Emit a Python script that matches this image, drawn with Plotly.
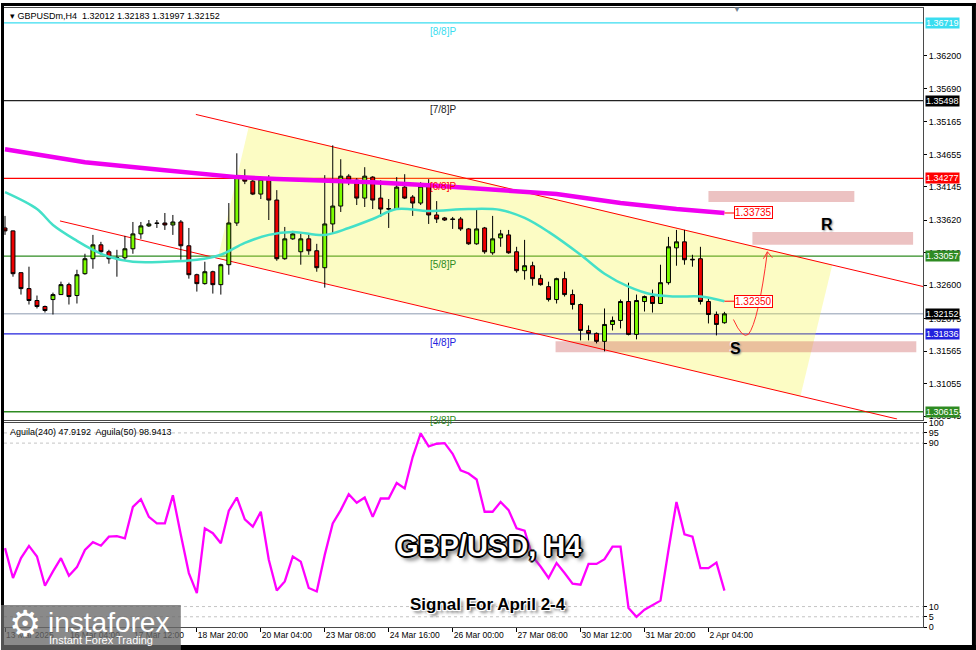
import plotly.graph_objects as go
from plotly.subplots import make_subplots

# ---------------- data ----------------
bar_index = list(range(91))
opens = [1.33500, 1.33454, 1.32798, 1.32548, 1.32361, 1.32267, 1.32376, 1.32454, 1.32610, 1.32439,
         1.32782, 1.33017, 1.33235, 1.33126, 1.33017, 1.33032, 1.33173, 1.33407, 1.33532, 1.33578,
         1.33578, 1.33547, 1.33594, 1.33220, 1.32766, 1.32626, 1.32813, 1.32610, 1.32923, 1.33578,
         1.34298, 1.34235, 1.34032, 1.34266, 1.33938, 1.33017, 1.33329, 1.33126, 1.33329, 1.33142,
         1.32876, 1.33563, 1.33844, 1.34313, 1.34251, 1.33969, 1.34298, 1.33969, 1.33805, 1.33797,
         1.34141, 1.33985, 1.33891, 1.34157, 1.33704, 1.33657, 1.33641, 1.33641, 1.33485, 1.33251,
         1.33500, 1.33110, 1.33344, 1.33391, 1.33126, 1.32829, 1.32907, 1.32704, 1.32579, 1.32376,
         1.32704, 1.32454, 1.32298, 1.31891, 1.31845, 1.31720, 1.31985, 1.32048, 1.32345, 1.31829,
         1.32345, 1.32423, 1.32314, 1.32641, 1.33188, 1.33282, 1.33009, 1.33017, 1.32345, 1.32141,
         1.32012]
highs = [1.33689, 1.33460, 1.32800, 1.32892, 1.32439, 1.32282, 1.32485, 1.32657, 1.32641, 1.32844,
         1.33095, 1.33391, 1.33282, 1.33157, 1.33157, 1.33376, 1.33594, 1.33594, 1.33625, 1.33625,
         1.33735, 1.33704, 1.33625, 1.33500, 1.32782, 1.32970, 1.32829, 1.32939, 1.33891, 1.34672,
         1.34422, 1.34266, 1.34282, 1.34329, 1.34094, 1.33516, 1.33454, 1.33407, 1.33407, 1.33251,
         1.34329, 1.34797, 1.34579, 1.34344, 1.34282, 1.34454, 1.34313, 1.34250, 1.33954, 1.34298,
         1.34344, 1.34016, 1.34219, 1.34266, 1.33922, 1.33673, 1.33673, 1.33673, 1.33500, 1.33797,
         1.33516, 1.33689, 1.33469, 1.33469, 1.33204, 1.33313, 1.32970, 1.32766, 1.32657, 1.32719,
         1.32813, 1.32532, 1.32314, 1.31970, 1.31860, 1.32236, 1.32110, 1.32376, 1.32641, 1.32454,
         1.32439, 1.32532, 1.32923, 1.33360, 1.33469, 1.33469, 1.33079, 1.33204, 1.32392, 1.32188,
         1.32183]
lows = [1.33391, 1.32735, 1.32454, 1.32298, 1.32236, 1.32172, 1.32141, 1.32450, 1.32298, 1.32314,
        1.32766, 1.32860, 1.33079, 1.32939, 1.32735, 1.32985, 1.33095, 1.33329, 1.33516, 1.33500,
        1.33469, 1.33391, 1.33001, 1.32704, 1.32501, 1.32610, 1.32470, 1.32454, 1.32766, 1.33532,
        1.34188, 1.34016, 1.33954, 1.33625, 1.32985, 1.33001, 1.33313, 1.32923, 1.33079, 1.32813,
        1.32563, 1.33407, 1.33751, 1.34172, 1.33860, 1.33829, 1.33797, 1.33673, 1.33500, 1.33782,
        1.33954, 1.33689, 1.33860, 1.33563, 1.33578, 1.33610, 1.33485, 1.33454, 1.33235, 1.33235,
        1.33095, 1.33079, 1.33204, 1.33095, 1.32798, 1.32688, 1.32594, 1.32594, 1.32345, 1.32314,
        1.32423, 1.32220, 1.31735, 1.31735, 1.31688, 1.31563, 1.31891, 1.31923, 1.31813, 1.31751,
        1.32188, 1.32172, 1.32310, 1.32610, 1.32907, 1.32923, 1.32892, 1.32298, 1.32001, 1.31813,
        1.31997]
closes = [1.33454, 1.32782, 1.32548, 1.32361, 1.32267, 1.32204, 1.32454, 1.32610, 1.32423, 1.32766,
          1.33017, 1.33235, 1.33126, 1.33017, 1.33032, 1.33173, 1.33407, 1.33532, 1.33563, 1.33572,
          1.33547, 1.33594, 1.33220, 1.32766, 1.32626, 1.32813, 1.32610, 1.32923, 1.33578, 1.34298,
          1.34235, 1.34032, 1.34266, 1.33938, 1.33017, 1.33329, 1.33407, 1.33329, 1.33142, 1.32876,
          1.33563, 1.33844, 1.34313, 1.34251, 1.33969, 1.34313, 1.33938, 1.33797, 1.33797, 1.34141,
          1.33969, 1.33891, 1.34157, 1.33704, 1.33641, 1.33625, 1.33634, 1.33485, 1.33251, 1.33485,
          1.33126, 1.33329, 1.33407, 1.33110, 1.32829, 1.32907, 1.32704, 1.32610, 1.32376, 1.32704,
          1.32454, 1.32298, 1.31891, 1.31845, 1.31720, 1.31985, 1.32048, 1.32345, 1.31829, 1.32361,
          1.32423, 1.32314, 1.32641, 1.33204, 1.33282, 1.33001, 1.33001, 1.32345, 1.32141, 1.31985,
          1.32152]

ma_slow_idx = [0, 10, 20, 29, 34, 46, 53, 61, 69, 77, 84, 90]
ma_slow_val = [1.34735, 1.34532, 1.34407, 1.34298, 1.34267, 1.34219, 1.34172, 1.34110,
               1.34032, 1.33891, 1.33797, 1.33735]
ma_fast_idx = [0, 4, 6, 9, 11, 13, 16, 20, 24, 27, 30, 33, 36, 40, 43, 46, 49, 53, 58, 62,
               65, 68, 72, 75, 78, 81, 84, 87, 90]
ma_fast_val = [1.34063, 1.33798, 1.33547, 1.33298, 1.33157, 1.33048, 1.32970, 1.32970, 1.33001,
               1.33079, 1.33266, 1.33391, 1.33438, 1.33391, 1.33500, 1.33641, 1.33797, 1.33766,
               1.33797, 1.33782, 1.33657, 1.33438, 1.33079, 1.32782, 1.32579, 1.32454, 1.32423,
               1.32423, 1.32350]

aguila = [38.6, 24.0, 33.7, 39.7, 34.5, 20.2, 27.2, 33.7, 25.1, 29.3,
          37.7, 41.5, 39.8, 44.2, 44.5, 43.4, 58.8, 62.6, 53.9, 50.7,
          50.7, 64.5, 45.0, 26.4, 16.6, 48.3, 45.9, 41.0, 56.9, 63.4,
          52.7, 49.1, 56.4, 32.9, 17.9, 22.3, 34.5, 32.0, 19.1, 17.4,
          35.3, 50.7, 57.2, 65.0, 60.8, 63.4, 53.9, 62.9, 62.9, 70.5,
          67.8, 83.2, 94.8, 88.4, 89.7, 90.0, 84.8, 76.7, 75.1, 72.2,
          56.4, 56.4, 61.2, 57.2, 48.3, 47.1, 34.5, 29.6, 24.0, 31.3,
          26.4, 21.2, 20.7, 30.9, 30.9, 33.2, 39.3, 39.3, 9.3, 5.0,
          8.5, 10.6, 12.9, 37.7, 61.2, 45.4, 44.2, 28.8, 28.8, 31.5,
          17.8]

time_tick_idx = [0, 8, 16, 24, 32, 40, 48, 56, 64, 72, 80, 88]
time_tick_text = ["13 Mar 2025", "16 Mar 04:00", "17 Mar 12:00", "18 Mar 20:00", "20 Mar 04:00",
                  "23 Mar 08:00", "24 Mar 16:00", "26 Mar 00:00", "27 Mar 08:00", "30 Mar 12:00",
                  "31 Mar 20:00", "2 Apr 04:00"]
price_ticks = [1.36200, 1.35690, 1.35165, 1.34655, 1.34145, 1.33620, 1.33110, 1.32600,
               1.32075, 1.31565, 1.31055, 1.30545]
aguila_ticks = [100, 95, 90, 10, 5, 0]
aguila_levels = [95, 90, 10, 5]

murrey_levels = [1.36719, 1.35498, 1.34277, 1.33057, 1.31836, 1.30615]
murrey_names = ["[8/8]P", "[7/8]P", "[6/8]P", "[5/8]P", "[4/8]P", "[3/8]P"]
current_price = 1.32152

# drawing anchors (bar index, price)
channel_upper = [(23.875, 1.35282), (114.84, 1.32581)]
channel_lower = [(6.875, 1.33610), (111.6, 1.30501)]
channel_area = [(30.5, 1.35094), (103.5, 1.32923), (99.5, 1.30860), (26.625, 1.33032)]
zones = [(88.0, 106.25, 1.33907, 1.34079), (93.5, 113.6, 1.33235, 1.33438),
         (68.875, 114.0, 1.31548, 1.31720)]
arrow_path = [(91.125, 1.32063), (92.25, 1.31751), (93.0, 1.31829), (94.25, 1.32032), (95.375, 1.33126)]
arrow_head = [(94.875, 1.33017), (95.375, 1.33126), (96.0, 1.33032)]

# ---------------- layout geometry ----------------
W, H = 976, 650
ML, MR, MT, MB = 3, 53, 5, 23
PW, PH = W - ML - MR, H - MT - MB


def pxx(px):
    return (px - ML) / PW


def pxy(py):
    return (H - MB - py) / PH


FONT = "Arial, Liberation Sans, sans-serif"
murrey_colors = ["#3ADDF0", "#222222", "#FF0000", "#2E8B22", "#2222DD", "#2E8B22"]
box_colors = {1.36719: "#3ADDF0", 1.35498: "#000000", 1.34277: "#FF0000", 1.33057: "#2E8B22",
              1.31836: "#2222DD", 1.30615: "#2E8B22"}

fig = make_subplots(rows=2, cols=1, shared_xaxes=True, vertical_spacing=0)

fig.add_trace(go.Scatter(x=ma_slow_idx, y=ma_slow_val, mode="lines",
                         line=dict(color="#F000F0", width=4.5), hoverinfo="skip"), row=1, col=1)
fig.add_trace(go.Scatter(x=ma_fast_idx, y=ma_fast_val, mode="lines", line_shape="spline",
                         line=dict(color="#44E0C8", width=2.5), hoverinfo="skip"), row=1, col=1)
fig.add_trace(go.Candlestick(x=bar_index, open=opens, high=highs, low=lows, close=closes,
                             increasing=dict(line=dict(color="#000000", width=1), fillcolor="#7CFC00"),
                             decreasing=dict(line=dict(color="#000000", width=1), fillcolor="#EE0000"),
                             whiskerwidth=0), row=1, col=1)
fig.add_trace(go.Scatter(x=bar_index, y=aguila, mode="lines",
                         line=dict(color="#FF00FF", width=2.3), hoverinfo="skip"), row=2, col=1)

shapes = []
# yellow channel area
path = "M " + " L ".join(f"{x},{y}" for x, y in channel_area) + " Z"
shapes.append(dict(type="path", path=path, xref="x", yref="y", layer="below",
                   fillcolor="rgba(245,245,60,0.30)", line=dict(width=0)))
# pink zones
for x0, x1, y0, y1 in zones:
    shapes.append(dict(type="rect", xref="x", yref="y", x0=x0, x1=x1, y0=y0, y1=y1, layer="below",
                       fillcolor="rgba(205,95,95,0.38)", line=dict(width=0)))
# murrey lines
for lv, col in zip(murrey_levels, murrey_colors):
    shapes.append(dict(type="line", xref="paper", yref="y", x0=0, x1=1, y0=lv, y1=lv, layer="below",
                       line=dict(color=col, width=1.3)))
shapes.append(dict(type="line", xref="paper", yref="y", x0=0, x1=1, y0=current_price, y1=current_price,
                   layer="below", line=dict(color="#8C9AB0", width=1)))
# channel lines
for (xa, ya), (xb, yb) in (channel_upper, channel_lower):
    shapes.append(dict(type="line", xref="x", yref="y", x0=xa, y0=ya, x1=xb, y1=yb, layer="below",
                       line=dict(color="#FF0000", width=1)))
# aguila levels
for lv in aguila_levels:
    shapes.append(dict(type="line", xref="paper", yref="y2", x0=0, x1=1, y0=lv, y1=lv, layer="below",
                       line=dict(color="#C4C4C4", width=1, dash="3px,3px")))
# arrow
p = arrow_path
apath = f"M {p[0][0]},{p[0][1]} Q {p[1][0]},{p[1][1]} {p[2][0]},{p[2][1]} Q {p[3][0]},{p[3][1]} {p[4][0]},{p[4][1]}"
shapes.append(dict(type="path", path=apath, xref="x", yref="y", line=dict(color="#FF3030", width=1)))
hp = arrow_head
shapes.append(dict(type="path", xref="x", yref="y", line=dict(color="#FF3030", width=1),
                   path=f"M {hp[0][0]},{hp[0][1]} L {hp[1][0]},{hp[1][1]} L {hp[2][0]},{hp[2][1]}"))
# MA value label connectors
for val in (ma_slow_val[-1], ma_fast_val[-1]):
    shapes.append(dict(type="line", xref="x", yref="y", x0=ma_slow_idx[-1], x1=91.25, y0=val, y1=val,
                       line=dict(color="#FF0000", width=1)))
# outer black frame
for x0, x1, y0, y1 in [(0, 3, 0, 650), (0, 976, 0, 3), (972, 976, 0, 650), (0, 976, 645, 650)]:
    shapes.append(dict(type="rect", xref="paper", yref="paper", x0=pxx(x0), x1=pxx(x1),
                       y0=pxy(y1), y1=pxy(y0), fillcolor="#000000", line=dict(width=0)))
# logo panel
shapes.append(dict(type="rect", xref="paper", yref="paper", x0=pxx(0), x1=pxx(180), y0=pxy(650),
                   y1=pxy(605), fillcolor="rgba(105,105,105,0.78)", line=dict(width=0)))

ann = []


def txt(x, y, text, size, color="#000", family=FONT, xanchor="left", shadow=None):
    f = dict(family=family, size=size, color=color)
    if shadow:
        f["shadow"] = shadow
    return dict(xref="paper", yref="paper", x=pxx(x), y=pxy(y), xanchor=xanchor, yanchor="middle",
                text=text, showarrow=False, font=f)


# header texts
ann.append(txt(7, 13, "▾ GBPUSDm,H4  1.32012 1.32183 1.31997 1.32152", 9))
ann.append(txt(7, 431, "Aguila(240) 47.9192  Aguila(50) 98.9413", 9))
ann.append(txt(737, 7, "▼", 8, color="#6F7F90", xanchor="center"))
# murrey labels
for lv, nm, col in zip(murrey_levels, murrey_names, murrey_colors):
    ann.append(dict(xref="x", yref="y", x=54.75, y=lv, yanchor="top", xanchor="center", yshift=-1,
                    text=nm, showarrow=False, font=dict(family=FONT, size=10, color=col)))
# right price boxes
for lv, col in box_colors.items():
    ann.append(dict(xref="paper", yref="y", x=1, y=lv, xanchor="left", yanchor="middle", xshift=2,
                    text=f"{lv:.5f}", showarrow=False, bgcolor=col, borderpad=0,
                    font=dict(family=FONT, size=9, color="#FFFFFF")))
ann.append(dict(xref="paper", yref="y", x=1, y=current_price, xanchor="left", yanchor="middle", xshift=2,
                text=f"{current_price:.5f}", showarrow=False, bgcolor="#000000", borderpad=0,
                font=dict(family=FONT, size=9, color="#FFFFFF")))
# MA value boxes
for val in (ma_slow_val[-1], ma_fast_val[-1]):
    ann.append(dict(xref="x", yref="y", x=91.25, y=val, xanchor="left", yanchor="middle",
                    text=f"{val:.5f}", showarrow=False, bgcolor="#FFFFFF", bordercolor="#FF0000",
                    borderwidth=1, borderpad=0, font=dict(family=FONT, size=10, color="#FF0000")))
# R / S letters
for t, xi, yv in (("R", 102.8, 1.33547), ("S", 91.4, 1.31610)):
    ann.append(dict(xref="x", yref="y", x=xi, y=yv, xanchor="center", yanchor="middle",
                    text=f"<b>{t}</b>", showarrow=False,
                    font=dict(family=FONT, size=16, color="#000",
                              shadow="1px 1px 2px #888, -1px -1px 0 #fff")))
# titles
ann.append(txt(488, 546, "<b>GBP/USD, H4</b>", 29, color="#FFFFFF", xanchor="center",
               shadow="-1px -1px 0 #000, 1px -1px 0 #000, -1px 1px 0 #000, 1px 1px 0 #000, "
                      "0 -2px 0 #000, 0 2px 0 #000, -2px 0 0 #000, 2px 0 0 #000, 4px 4px 4px #666"))
ann.append(txt(488, 604, "<b>Signal For April 2-4</b>", 17, color="#000000", xanchor="center",
               shadow="-1px -1px 0 #fff, 1px -1px 0 #fff, -1px 1px 0 #fff, 1px 1px 0 #fff, 3px 3px 3px #777"))
# logo
ann.append(txt(24, 623, "⚙", 36, color="#FFFFFF", family="DejaVu Sans", xanchor="center"))
ann.append(txt(45, 622, "instaforex", 28, color="#FFFFFF"))
ann.append(txt(46, 640, "Instant Forex Trading", 11, color="#FFFFFF"))

fig.update_layout(
    width=W, height=H, margin=dict(l=ML, r=MR, t=MT, b=MB),
    paper_bgcolor="#FFFFFF", plot_bgcolor="#FFFFFF", showlegend=False,
    shapes=shapes, annotations=ann, hovermode=False,
    font=dict(family=FONT, size=9, color="#000"),
)
axis_line = dict(showline=True, linecolor="#4A4A4A", linewidth=1, mirror=True, showgrid=False, zeroline=False)
fig.update_xaxes(range=[-0.125, 114.84], **axis_line)
fig.update_layout(xaxis=dict(rangeslider=dict(visible=False), showticklabels=False, ticks="",
                             domain=[0, 1]))
fig.update_layout(xaxis2=dict(tickvals=time_tick_idx, ticktext=time_tick_text, ticks="outside",
                              ticklen=4, tickcolor="#000", ticklabelposition="outside right",
                              tickfont=dict(family=FONT, size=8.5, color="#000")))
fig.update_layout(
    yaxis=dict(domain=[pxy(418.5), 1], range=[1.30493, 1.36953], side="right", tickvals=price_ticks,
               ticktext=[f"{v:.5f}" for v in price_ticks], ticks="outside", ticklen=3, tickcolor="#000",
               tickfont=dict(family=FONT, size=9, color="#000"), **axis_line),
    yaxis2=dict(domain=[0, pxy(421.7)], range=[0, 100], side="right", tickvals=aguila_ticks,
                ticks="outside", ticklen=3, tickcolor="#000",
                tickfont=dict(family=FONT, size=9, color="#000"), **axis_line),
)

fig.write_html("out.html", config={"displayModeBar": False, "staticPlot": True},
               post_script="document.body.style.margin='0';document.body.style.overflow='hidden';")
